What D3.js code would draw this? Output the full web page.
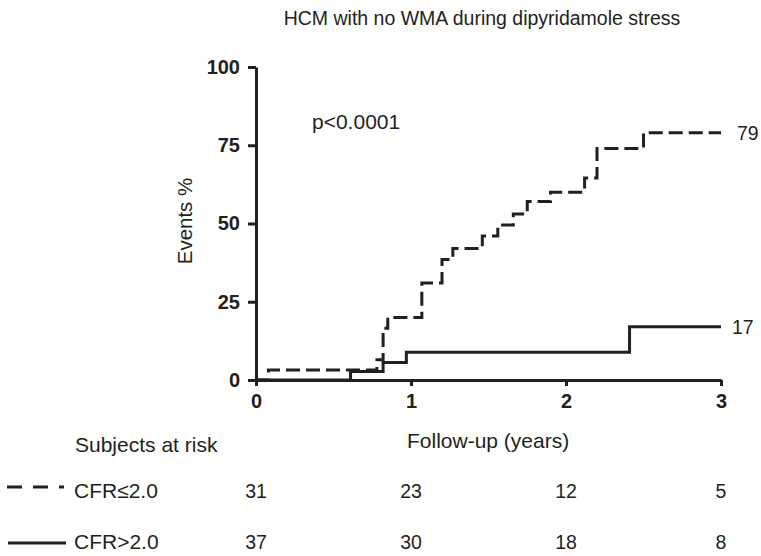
<!DOCTYPE html>
<html lang="en">
<head>
  <meta charset="UTF-8">
  <title>km-curve</title>
  <script type="text/javascript" src="https://cdn.jsdelivr.net/npm/d3@7/dist/d3.min.js"></script>
  <style>
    body { margin: 0; background: #fff; }
    text { font-family: "Liberation Sans", Arial, sans-serif; fill: #231f20; }
  </style>
</head>
<body>
<div id="chart"></div>
<script type="text/javascript">
    // step curves: [years, events %]
    let low_cfr = [[0, 0], [0.08, 3.2], [0.78, 6.5], [0.82, 16.5], [0.85, 20], [1.07, 31], [1.2, 38.5],
        [1.27, 42], [1.46, 46], [1.56, 49.5], [1.66, 53], [1.75, 57], [1.9, 60], [2.12, 64.5],
        [2.2, 74], [2.5, 79], [3, 79]];
    let high_cfr = [[0, 0], [0.61, 2.7], [0.82, 5.6], [0.97, 8.9], [2.41, 17], [3, 17]];
    let end_labels = ["79", "17"];
    let x_ticks = [0, 1, 2, 3];
    let y_ticks = [0, 25, 50, 75, 100];
    let group_names = ["CFR\u22642.0", "CFR>2.0"];
    let at_risk_low = [31, 23, 12, 5];
    let at_risk_high = [37, 30, 18, 8];

    let width = 761, height = 556;
    let svg = d3.select("#chart").append("svg").attr("width", width).attr("height", height);

    let x = d3.scaleLinear().domain([0, 3]).range([256, 721]);
    let y = d3.scaleLinear().domain([0, 100]).range([380, 67]);
    let ink = "#231f20";
    let label_size = "21px";

    // title
    svg.append("text").attr("x", 482).attr("y", 25).attr("text-anchor", "middle")
        .style("font-size", "19.5px").text("HCM with no WMA during dipyridamole stress");

    // axes
    let yAxis = svg.append("g").attr("transform", "translate(" + x(0) + ",0)")
        .call(d3.axisLeft(y).tickValues(y_ticks).tickSize(8).tickSizeOuter(0).tickPadding(8));
    let xAxis = svg.append("g").attr("transform", "translate(0," + y(0) + ")")
        .call(d3.axisBottom(x).tickValues(x_ticks).tickFormat(d3.format("d"))
            .tickSize(6).tickSizeOuter(0).tickPadding(8));
    [yAxis, xAxis].forEach(function (a) {
        a.select(".domain").attr("stroke", ink).attr("stroke-width", 3);
        a.selectAll(".tick line").attr("stroke", ink).attr("stroke-width", 3);
        a.selectAll(".tick text").attr("fill", ink).style("font-size", "20px").style("font-weight", "bold")
            .style("font-family", "'Liberation Sans', Arial, sans-serif");
    });

    svg.append("text").attr("transform", "translate(192,221) rotate(-90)").attr("text-anchor", "middle")
        .style("font-size", "20.5px").text("Events %");
    svg.append("text").attr("x", 312).attr("y", 129).style("font-size", label_size).text("p<0.0001");

    // curves
    let line = d3.line().x(d => x(d[0])).y(d => y(d[1])).curve(d3.curveStepAfter);
    svg.append("path").datum(high_cfr).attr("d", line).attr("fill", "none")
        .attr("stroke", ink).attr("stroke-width", 3);
    svg.append("path").datum(low_cfr).attr("d", line).attr("fill", "none")
        .attr("stroke", ink).attr("stroke-width", 3).attr("stroke-dasharray", "14,6");

    svg.append("text").attr("x", x(3) + 16).attr("y", y(low_cfr[low_cfr.length - 1][1]) + 7)
        .style("font-size", "19.5px").text(end_labels[0]);
    svg.append("text").attr("x", x(3) + 11).attr("y", y(high_cfr[high_cfr.length - 1][1]) + 7)
        .style("font-size", "19.5px").text(end_labels[1]);

    svg.append("text").attr("x", 407).attr("y", 448).style("font-size", label_size).text("Follow-up (years)");

    // at-risk table
    svg.append("text").attr("x", 75).attr("y", 452).style("font-size", label_size).text("Subjects at risk");
    let rows = [at_risk_low, at_risk_high];
    let row_y = [498, 549];
    rows.forEach(function (r, i) {
        svg.append("text").attr("x", 74).attr("y", row_y[i]).style("font-size", label_size).text(group_names[i]);
        svg.selectAll(null).data(r).enter().append("text")
            .attr("x", (d, j) => x(x_ticks[j])).attr("y", row_y[i])
            .attr("text-anchor", "middle").style("font-size", "19.5px").text(d => d);
    });
    svg.append("line").attr("x1", 7).attr("x2", 64).attr("y1", 487).attr("y2", 487)
        .attr("stroke", ink).attr("stroke-width", 3).attr("stroke-dasharray", "15,11");
    svg.append("line").attr("x1", 8).attr("x2", 66).attr("y1", 543).attr("y2", 543)
        .attr("stroke", ink).attr("stroke-width", 3);
</script>
</body>
</html>
